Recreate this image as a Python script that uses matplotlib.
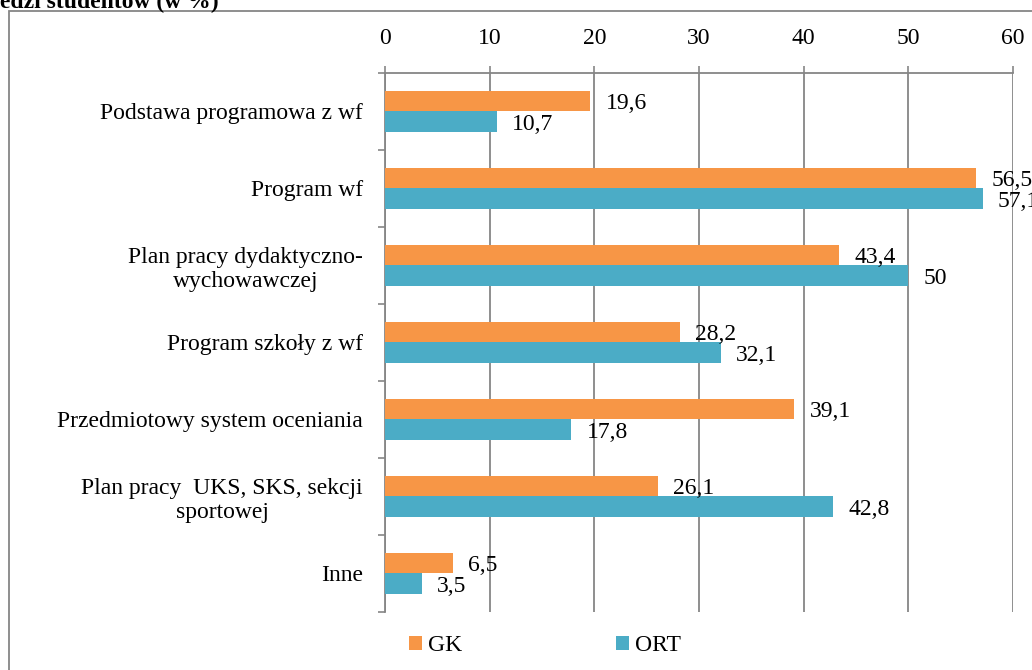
import numpy as np
import matplotlib
matplotlib.use("Agg")
import matplotlib.pyplot as plt
from matplotlib.patches import Rectangle

# Data
categories = [
    "Podstawa programowa z wf",
    "Program wf",
    "Plan pracy dydaktyczno-\nwychowawczej",
    "Program szkoły z wf",
    "Przedmiotowy system oceniania",
    "Plan pracy  UKS, SKS, sekcji\nsportowej",
    "Inne",
]
gk = [19.6, 56.5, 43.4, 28.2, 39.1, 26.1, 6.5]
ort = [10.7, 57.1, 50, 32.1, 17.8, 42.8, 3.5]
series_names = ["GK", "ORT"]
x_ticks = [0, 10, 20, 30, 40, 50, 60]

plt.rcParams["font.family"] = ["Liberation Serif", "DejaVu Serif"]
FS = 17
GRAY = "#868686"

fig = plt.figure(figsize=(10.32, 6.70), dpi=100)
ax = fig.add_axes([0.3731, 0.0866, 0.6085, 0.8045])

n = len(categories)
y = np.arange(n)
h = 0.27
ax.barh(y - h / 2, gk, height=h, color="#F79646", label=series_names[0], zorder=3)
ax.barh(y + h / 2, ort, height=h, color="#4BACC6", label=series_names[1], zorder=3)

def fmt(v):
    return f"{v:g}".replace(".", ",")

for vals, off in ((gk, -h / 2), (ort, h / 2)):
    for i, v in enumerate(vals):
        ax.annotate(fmt(v), (v, i + off), xytext=(11, -2), textcoords="offset points",
                    va="center", ha="left", fontsize=FS, zorder=4, annotation_clip=False)

ax.set_xlim(0, 60)
ax.set_ylim(n - 0.5, -0.5)
ax.xaxis.tick_top()
ax.set_xticks(x_ticks)
ax.set_xticklabels([str(t) for t in x_ticks], fontsize=FS)
ax.tick_params(axis="x", which="major", length=5, width=1.2, color=GRAY, pad=12)
ax.grid(axis="x", color=GRAY, linewidth=1.3, zorder=0)

ax.set_yticks(y)
ax.set_yticklabels(categories, fontsize=FS, multialignment="center")
ax.set_yticks(np.arange(n + 1) - 0.5, minor=True)
ax.tick_params(axis="y", which="major", length=0, pad=16)
ax.tick_params(axis="y", which="minor", length=5, width=1.2, color=GRAY)

for side in ("right", "bottom"):
    ax.spines[side].set_visible(False)
for side in ("top", "left"):
    ax.spines[side].set_color(GRAY)
    ax.spines[side].set_linewidth(1.3)

fig.legend(loc="center", bbox_to_anchor=(0.528, 0.036), ncol=2, frameon=False,
           fontsize=FS, handlelength=0.55, handleheight=0.55, handletextpad=0.25,
           columnspacing=6.5)

# outer chart border, partly outside the picture
fig.patches.append(Rectangle((9 / 1032, -0.1), 1.2, 1 - 11 / 670 + 0.1,
                             transform=fig.transFigure, fill=False,
                             edgecolor=GRAY, linewidth=1.3, clip_on=False))

fig.text(0.0, 1 - 8 / 670, "edzi studentów (w %)", fontsize=17, fontweight="bold",
         ha="left", va="baseline")

fig.savefig("out.png", dpi=100)
